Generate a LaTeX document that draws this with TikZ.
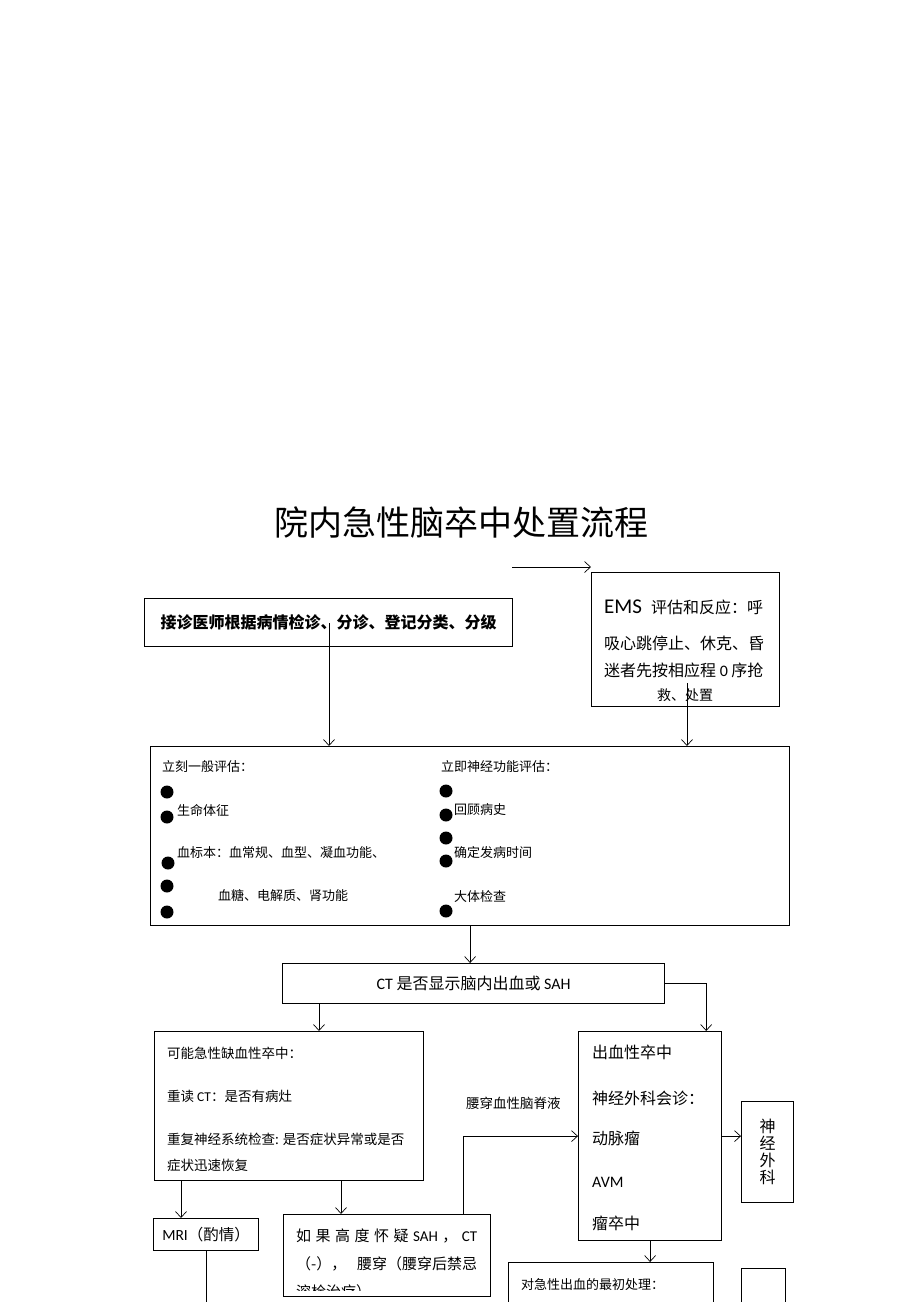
\documentclass[tikz,border=0pt]{standalone}
\usepackage{fontspec}
\setmainfont{Noto Sans CJK SC}
\newfontfamily\lat{Carlito}
\usetikzlibrary{arrows.meta}
\tikzset{
  box/.style={draw, line width=1.2pt, inner sep=0pt, anchor=north west},
  arr/.style={line width=0.7pt, -{Straight Barb[length=6pt,width=11pt]}},
  txt/.style={inner sep=0pt, anchor=west, font=\fontsize{13}{15}\selectfont},
  midtxt/.style={inner sep=0pt, anchor=west, font=\fontsize{16}{18}\selectfont},
}
\begin{document}
\begin{tikzpicture}[x=1pt,y=-1pt]
            \useasboundingbox (0,0) rectangle (920,1302);
            \clip (0,0) rectangle (920,1302);

            % Title
            \node[inner sep=0pt, font=\fontsize{34}{40}\selectfont] (title) at (461,523) {院内急性脑卒中处置流程};

            % Triage and EMS
            \node[box, minimum width=368pt, minimum height=48pt, font=\fontsize{16}{18}\selectfont\bfseries] (triage) at (144,598) {接诊医师根据病情检诊、分诊、登记分类、分级};
            \node[box, minimum width=188pt, minimum height=134pt] (ems) at (591,572) {};
            \node[midtxt] (ems1) at (604,607) {{\lat\fontsize{21}{22}\selectfont EMS}\hspace{9pt}评估和反应：呼};
            \node[midtxt] (ems2) at (604,643) {吸心跳停止、休克、昏};
            \node[midtxt] (ems3) at (604,670) {迷者先按相应程 {\lat 0} 序抢};
            \node[inner sep=0pt, font=\fontsize{14}{16}\selectfont] (ems4) at (685,695) {救、处置};

            % Immediate assessment
            \node[box, minimum width=639pt, minimum height=179pt] (assess) at (150,746) {};
            \node[txt] (general) at (162,767) {立刻一般评估：};
            \node[txt] (vital) at (177,810) {生命体征};
            \node[txt] (blood) at (177,853) {血标本：血常规、血型、凝血功能、};
            \node[txt] (blood2) at (218,896) {血糖、电解质、肾功能};
            \node[txt] (neuroeval) at (441,767) {立即神经功能评估：};
            \node[txt] (history) at (454,810) {回顾病史};
            \node[txt] (onset) at (454,853) {确定发病时间};
            \node[txt] (exam) at (454,896) {大体检查};
            \foreach \x/\y in {167/792, 167/817, 168/863, 167/886, 167/912, 446/791, 446/815, 446/838, 446/861, 446/911}
                \fill (\x,\y) circle (6.5pt);

            % CT
            \node[box, minimum width=382pt, minimum height=40pt, font=\fontsize{16}{18}\selectfont] (ct) at (282,963) {{\lat CT} 是否显示脑内出血或 {\lat SAH}};

            % Ischemic branch
            \node[box, minimum width=269pt, minimum height=149pt] (isch) at (154,1031) {};
            \node[txt, font=\fontsize{13.5}{15}\selectfont] (isch1) at (167,1053) {可能急性缺血性卒中：};
            \node[txt, font=\fontsize{13.5}{15}\selectfont] (isch2) at (167,1096) {重读 {\lat CT}：是否有病灶};
            \node[txt, font=\fontsize{13.5}{15}\selectfont] (isch3) at (167,1139) {重复神经系统检查: 是否症状异常或是否};
            \node[txt, font=\fontsize{13.5}{15}\selectfont] (isch4) at (167,1165) {症状迅速恢复};
            \node[box, minimum width=105pt, minimum height=32pt, font=\fontsize{15.5}{17}\selectfont] (mri) at (153,1218) {{\lat MRI}（酌情）};
            \node[box, minimum width=207pt, minimum height=82pt] (susp) at (283,1214) {};
            \node[inner sep=0pt, anchor=west, font=\fontsize{15}{17}\selectfont] (susp1) at (296,1236) {\makebox[181pt][s]{如\hfil 果\hfil 高\hfil 度\hfil 怀\hfil 疑\hfil {\lat SAH}\hfil ，\hfil {\lat CT}}};
            \node[inner sep=0pt, anchor=west, font=\fontsize{15}{17}\selectfont] (susp2) at (296,1264) {\makebox[181pt][s]{（-），\hfil 腰穿（腰穿后禁忌}};
            \begin{scope}
                \clip (283,1214) rectangle (490,1290); % cut last line
                \node[inner sep=0pt, anchor=west, font=\fontsize{15}{17}\selectfont] (susp3) at (296,1292) {溶栓治疗）};
            \end{scope}
            \node[inner sep=0pt, anchor=west, font=\fontsize{13.5}{15}\selectfont] (lp) at (466,1103) {腰穿血性脑脊液};

            % Hemorrhagic branch
            \node[box, minimum width=143pt, minimum height=209pt] (hem) at (578,1031) {};
            \node[midtxt] (hem1) at (592,1052) {出血性卒中};
            \node[midtxt] (hem2) at (592,1098) {神经外科会诊：};
            \node[midtxt] (hem3) at (592,1138) {动脉瘤};
            \node[midtxt] (hem4) at (592,1182) {\lat AVM};
            \node[midtxt] (hem5) at (592,1223) {瘤卒中};
            \node[box, minimum width=52pt, minimum height=101pt, align=center, font=\fontsize{16}{17}\selectfont] (surg) at (741,1101) {神\\经\\外\\科};
            \node[box, minimum width=205pt, minimum height=120pt] (init) at (508,1262) {};
            \node[txt] (init1) at (521,1285) {对急性出血的最初处理：};
            \node[box, minimum width=44pt, minimum height=100pt] (side) at (741,1268) {};

            % Connectors
            \coordinate (topstart) at (512,567);
            \coordinate (t1) at (329,623);
            \coordinate (e1) at (687,683);
            \coordinate (pagebottom) at (0,1310);
            \draw[arr] (topstart) -- (topstart -| ems.west);
            \draw[arr] (t1) -- (t1 |- assess.north);
            \draw[arr] (e1) -- (e1 |- assess.north);
            \draw[arr] (assess.south) -- (assess.south |- ct.north);
            \draw[arr] ([xshift=37pt]ct.south west) -- ([xshift=37pt]ct.south west |- isch.north);
            \draw[arr] (ct.east) -| ([xshift=-16pt]hem.north east);
            \draw[arr] ([xshift=27pt]isch.south west) -- ([xshift=27pt]isch.south west |- mri.north);
            \draw[arr] ([xshift=187pt]isch.south west) -- ([xshift=187pt]isch.south west |- susp.north);
            \draw[line width=0.7pt] (mri.south) -- (mri.south |- pagebottom);
            \draw[arr] ([xshift=180pt]susp.north west) |- (hem.west);
            \draw[arr] (hem.east) -- (hem.east -| surg.west);
            \draw[arr] (hem.south) -- (hem.south |- init.north);
        \end{tikzpicture}
\end{document}
